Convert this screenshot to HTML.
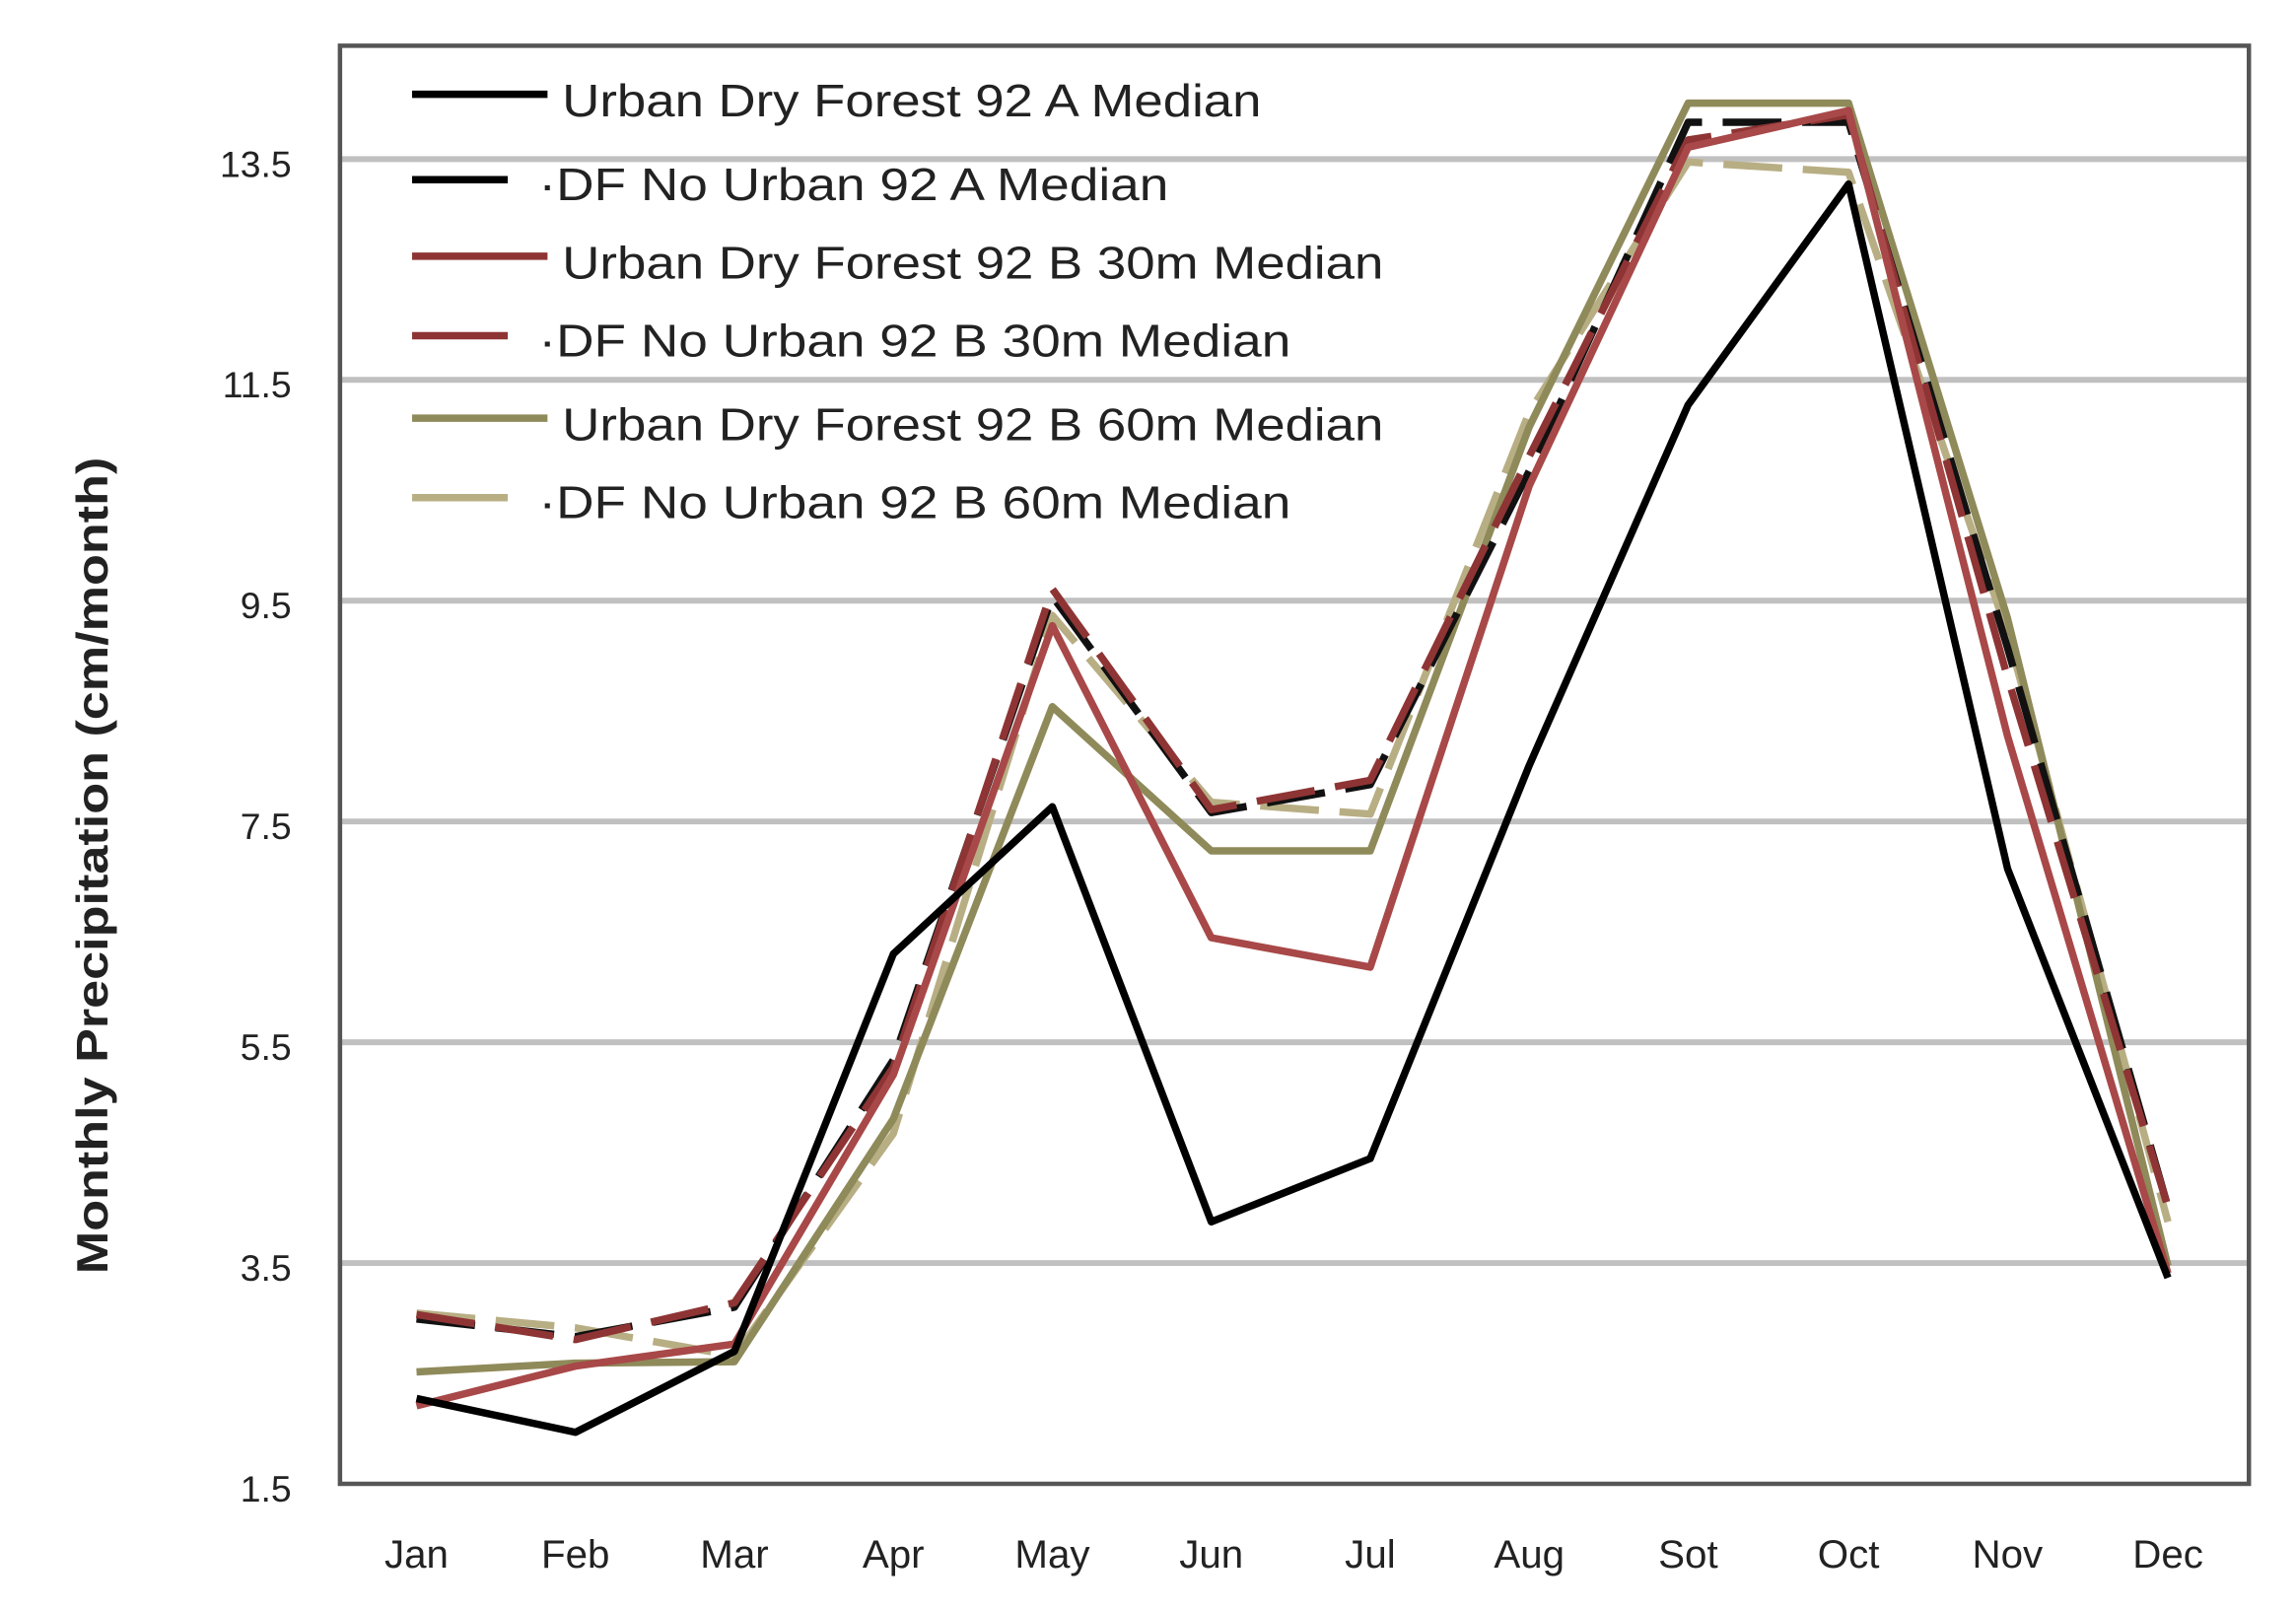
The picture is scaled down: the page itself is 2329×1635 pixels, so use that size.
<!DOCTYPE html>
<html><head><meta charset="utf-8"><style>html,body{margin:0;padding:0;background:#fff;}svg{display:block}</style></head>
<body>
<svg width="2329" height="1635" viewBox="0 0 1560 1095" xmlns="http://www.w3.org/2000/svg" font-family="Liberation Sans, sans-serif">
<rect width="1560" height="1095" fill="#fff"/>
<g stroke="#c0c0c0" stroke-width="4">
<line x1="231" y1="108" x2="1528" y2="108"/>
<line x1="231" y1="258" x2="1528" y2="258"/>
<line x1="231" y1="408" x2="1528" y2="408"/>
<line x1="231" y1="558" x2="1528" y2="558"/>
<line x1="231" y1="708" x2="1528" y2="708"/>
<line x1="231" y1="858" x2="1528" y2="858"/>
</g>
<rect x="231" y="31" width="1297" height="977" fill="none" stroke="#555" stroke-width="3"/>
<g font-size="25" fill="#222" text-anchor="end">
<text x="198" y="120">13.5</text><text x="198" y="270">11.5</text><text x="198" y="420">9.5</text>
<text x="198" y="570">7.5</text><text x="198" y="720">5.5</text><text x="198" y="870">3.5</text><text x="198" y="1020">1.5</text>
</g>
<g font-size="27" fill="#222" text-anchor="middle">
<text x="283" y="1065">Jan</text><text x="391" y="1065">Feb</text><text x="499" y="1065">Mar</text><text x="607" y="1065">Apr</text>
<text x="715" y="1065">May</text><text x="823" y="1065">Jun</text><text x="931" y="1065">Jul</text><text x="1039" y="1065">Aug</text>
<text x="1147" y="1065">Sot</text><text x="1256" y="1065">Oct</text><text x="1364" y="1065">Nov</text><text x="1473" y="1065">Dec</text>
</g>
<text transform="translate(73,588) rotate(-90)" font-size="30" font-weight="bold" fill="#222" text-anchor="middle" textLength="555" lengthAdjust="spacingAndGlyphs">Monthly Precipitation (cm/month)</text>
<g fill="none" stroke-width="5" stroke-linejoin="round">
<polyline stroke="#b8ae84" stroke-dasharray="40,14" points="283,892 391,902 499,921 607,770 715,418 823,545 931,553 1039,280 1147,110 1256,117 1364,430 1473,830"/>
<polyline stroke="#8f8a5a" points="283,932 391,926 499,925 607,760 715,480 823,578 931,578 1039,290 1147,70 1256,70 1364,420 1473,860"/>
<polyline stroke="#111" stroke-dasharray="40,14" points="283,896 391,908 499,888 607,720 715,405 823,552 931,533 1039,320 1147,83 1256,83 1364,440 1473,820"/>
<polyline stroke="#8e3434" stroke-dasharray="40,14" points="283,893 391,910 499,885 607,725 715,400 823,550 931,530 1039,310 1147,95 1256,78 1364,460 1473,820"/>
<polyline stroke="#a84848" points="283,955 391,928 499,913 607,730 715,425 823,637 931,657 1039,330 1147,100 1256,75 1364,500 1473,865"/>
<polyline stroke="#000" points="283,950 391,973 499,918 607,648 715,548 823,830 931,787 1039,520 1147,275 1256,125 1364,590 1473,868"/>
</g>
<g stroke-width="5">
<line x1="280" y1="64" x2="372" y2="64" stroke="#000"/>
<line x1="280" y1="122" x2="345" y2="122" stroke="#000"/>
<line x1="280" y1="174" x2="372" y2="174" stroke="#8e3434"/>
<line x1="280" y1="228" x2="345" y2="228" stroke="#8e3434"/>
<line x1="280" y1="284" x2="372" y2="284" stroke="#8f8a5a"/>
<line x1="280" y1="338" x2="345" y2="338" stroke="#b8ae84"/>
</g>
<g font-size="31" fill="#222">
<text x="382" y="79" textLength="475" lengthAdjust="spacingAndGlyphs">Urban Dry Forest 92 A Median</text>
<text x="366" y="136" textLength="428" lengthAdjust="spacingAndGlyphs">·DF No Urban 92 A Median</text>
<text x="382" y="189" textLength="558" lengthAdjust="spacingAndGlyphs">Urban Dry Forest 92 B 30m Median</text>
<text x="366" y="242" textLength="511" lengthAdjust="spacingAndGlyphs">·DF No Urban 92 B 30m Median</text>
<text x="382" y="299" textLength="558" lengthAdjust="spacingAndGlyphs">Urban Dry Forest 92 B 60m Median</text>
<text x="366" y="352" textLength="511" lengthAdjust="spacingAndGlyphs">·DF No Urban 92 B 60m Median</text>
</g>
</svg>
</body></html>
